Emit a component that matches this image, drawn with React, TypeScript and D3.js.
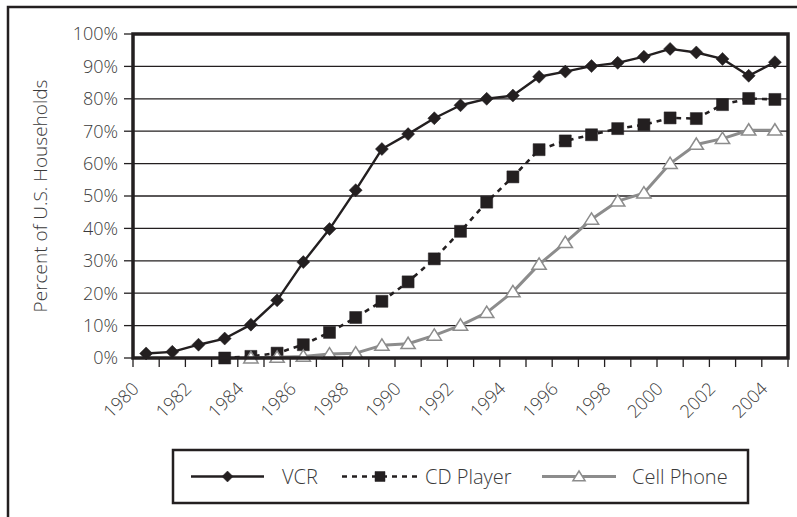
import { useMemo } from 'react';
import * as d3 from 'd3';

const YEARS = d3.range(1980, 2005).map(String);

// percent of households, null = not on market yet
const VCR = [1.4, 1.9, 4.1, 6.0, 10.3, 17.8, 29.6, 39.8, 51.8, 64.5, 69.1, 74.0, 78.0, 80.0, 81.0, 86.8, 88.4, 90.1, 91.1, 93.0, 95.4, 94.3, 92.3, 87.1, 91.3];
const CD_PLAYER = [null, null, null, 0.0, 0.5, 1.5, 4.1, 7.9, 12.5, 17.5, 23.5, 30.6, 39.1, 48.1, 55.9, 64.3, 67.0, 68.9, 70.8, 72.0, 74.1, 73.9, 78.2, 80.1, 79.8];
const CELL_PHONE = [null, null, null, null, 0.0, 0.2, 0.5, 1.2, 1.5, 3.9, 4.4, 7.0, 10.1, 14.0, 20.4, 28.9, 35.6, 42.8, 48.4, 50.9, 60.0, 65.9, 67.7, 70.3, 70.3];

const Y_TICKS = [0, 10, 20, 30, 40, 50, 60, 70, 80, 90, 100];
const X_LABELS = YEARS.filter((_, i) => i % 2 === 0);

const WIDTH = 797;
const HEIGHT = 517;
const PLOT = { left: 133, right: 788, top: 34, bottom: 358 };
const INK = '#231f20';
const GREY = '#8c8c8c';
const TEXT = '#3a3a3a';
const FONT = "'Open Sans', sans-serif";

type Kind = 'diamond' | 'square' | 'triangle';

const markerPath = (kind: Kind, r: number) => {
  if (kind === 'diamond') return `M0,${-r}L${r},0L0,${r}L${-r},0Z`;
  if (kind === 'square') return `M${-r},${-r}H${r}V${r}H${-r}Z`;
  return `M0,${-r}L${r * 1.1},${r * 0.75}L${-r * 1.1},${r * 0.75}Z`;
};

const SERIES = [
  { name: 'VCR', values: VCR, kind: 'diamond' as Kind, stroke: INK, width: 2.4, dash: undefined, fill: INK, r: 6.5 },
  { name: 'CD Player', values: CD_PLAYER, kind: 'square' as Kind, stroke: INK, width: 2.6, dash: '5,5', fill: INK, r: 6 },
  { name: 'Cell Phone', values: CELL_PHONE, kind: 'triangle' as Kind, stroke: GREY, width: 3, dash: undefined, fill: '#fff', r: 6.5 },
];

// legend item anchors (line start, line end, text)
const LEGEND = { x: 173, y: 450, w: 575, h: 53 };
const LEGEND_ITEMS = [
  { x0: 191, x1: 264, text: 282 },
  { x0: 342, x1: 418, text: 425 },
  { x0: 542, x1: 616, text: 632 },
];

const App = () => {
  const xScale = useMemo(() => d3.scaleBand().domain(YEARS).range([PLOT.left, PLOT.right]).padding(0), []);
  const yScale = useMemo(() => d3.scaleLinear().domain([0, 100]).range([PLOT.bottom, PLOT.top]), []);
  const bw = xScale.bandwidth();
  const cx = (year: string) => (xScale(year) ?? 0) + bw / 2;

  const line = d3
    .line<number | null>()
    .defined(d => d !== null)
    .x((_, i) => cx(YEARS[i]))
    .y(d => yScale(d as number));

  const tickXs = [...YEARS.map(y => xScale(y) ?? 0), PLOT.right];
  const legendY = LEGEND.y + LEGEND.h / 2;

  return (
    <svg
      width={WIDTH}
      height={HEIGHT}
      style={{ position: 'absolute', left: 0, top: 0, background: '#fff' }}
      fontFamily={FONT}
      fontWeight={300}
    >
      <rect x={8} y={7} width={WIDTH + 20} height={HEIGHT + 20} fill="#fff" stroke={INK} strokeWidth={2.5} />

      {/* grid */}
      {Y_TICKS.filter(t => t > 0 && t < 100).map(t => (
        <line key={`g${t}`} x1={PLOT.left} x2={PLOT.right} y1={yScale(t)} y2={yScale(t)} stroke={INK} strokeWidth={1.3} />
      ))}

      {/* y ticks + labels */}
      {Y_TICKS.map(t => (
        <g key={`y${t}`}>
          <line x1={124} x2={PLOT.left} y1={yScale(t)} y2={yScale(t)} stroke={INK} strokeWidth={1.3} />
          <text x={118} y={yScale(t)} dy="0.36em" textAnchor="end" fontSize={18} fill={TEXT}>
            {`${t}%`}
          </text>
        </g>
      ))}

      {/* x ticks + labels */}
      {tickXs.map((x, i) => (
        <line key={`xt${i}`} x1={x} x2={x} y1={PLOT.bottom} y2={PLOT.bottom + 9} stroke={INK} strokeWidth={1.3} />
      ))}
      {X_LABELS.map(year => {
        const x = cx(year) - 6;
        const y = 390;
        return (
          <text key={`xl${year}`} x={x} y={y} textAnchor="end" fontSize={18} fill={TEXT} transform={`rotate(-45 ${x} ${y})`}>
            {year}
          </text>
        );
      })}

      <text transform={`translate(47,${(PLOT.top + PLOT.bottom) / 2}) rotate(-90)`} textAnchor="middle" fontSize={19} fill={TEXT}>
        Percent of U.S. Households
      </text>

      {/* series */}
      {SERIES.map(s => (
        <g key={s.name}>
          <path d={line(s.values) ?? ''} fill="none" stroke={s.stroke} strokeWidth={s.width} strokeDasharray={s.dash} strokeLinejoin="round" />
          {s.values.map((v, i) =>
            v === null ? null : (
              <path
                key={`${s.name}${i}`}
                d={markerPath(s.kind, s.r)}
                transform={`translate(${cx(YEARS[i])},${yScale(v)})`}
                fill={s.fill}
                stroke={s.stroke}
                strokeWidth={s.kind === 'triangle' ? 1.5 : 0.5}
              />
            )
          )}
        </g>
      ))}

      {/* plot frame */}
      <rect x={PLOT.left} y={PLOT.top} width={PLOT.right - PLOT.left} height={PLOT.bottom - PLOT.top} fill="none" stroke={INK} strokeWidth={3.5} />

      {/* legend */}
      <rect x={LEGEND.x} y={LEGEND.y} width={LEGEND.w} height={LEGEND.h} fill="#fff" stroke={INK} strokeWidth={2.5} />
      {SERIES.map((s, i) => {
        const it = LEGEND_ITEMS[i];
        const mx = (it.x0 + it.x1) / 2;
        return (
          <g key={`lg${s.name}`}>
            <line x1={it.x0} x2={it.x1} y1={legendY} y2={legendY} stroke={s.stroke} strokeWidth={s.width} strokeDasharray={s.dash} />
            <path
              d={markerPath(s.kind, s.r - 1)}
              transform={`translate(${mx},${legendY})`}
              fill={s.fill}
              stroke={s.stroke}
              strokeWidth={s.kind === 'triangle' ? 1.5 : 0.5}
            />
            <text x={it.text} y={legendY} dy="0.36em" fontSize={20} fill={TEXT}>
              {s.name}
            </text>
          </g>
        );
      })}
    </svg>
  );
};

export default App;
